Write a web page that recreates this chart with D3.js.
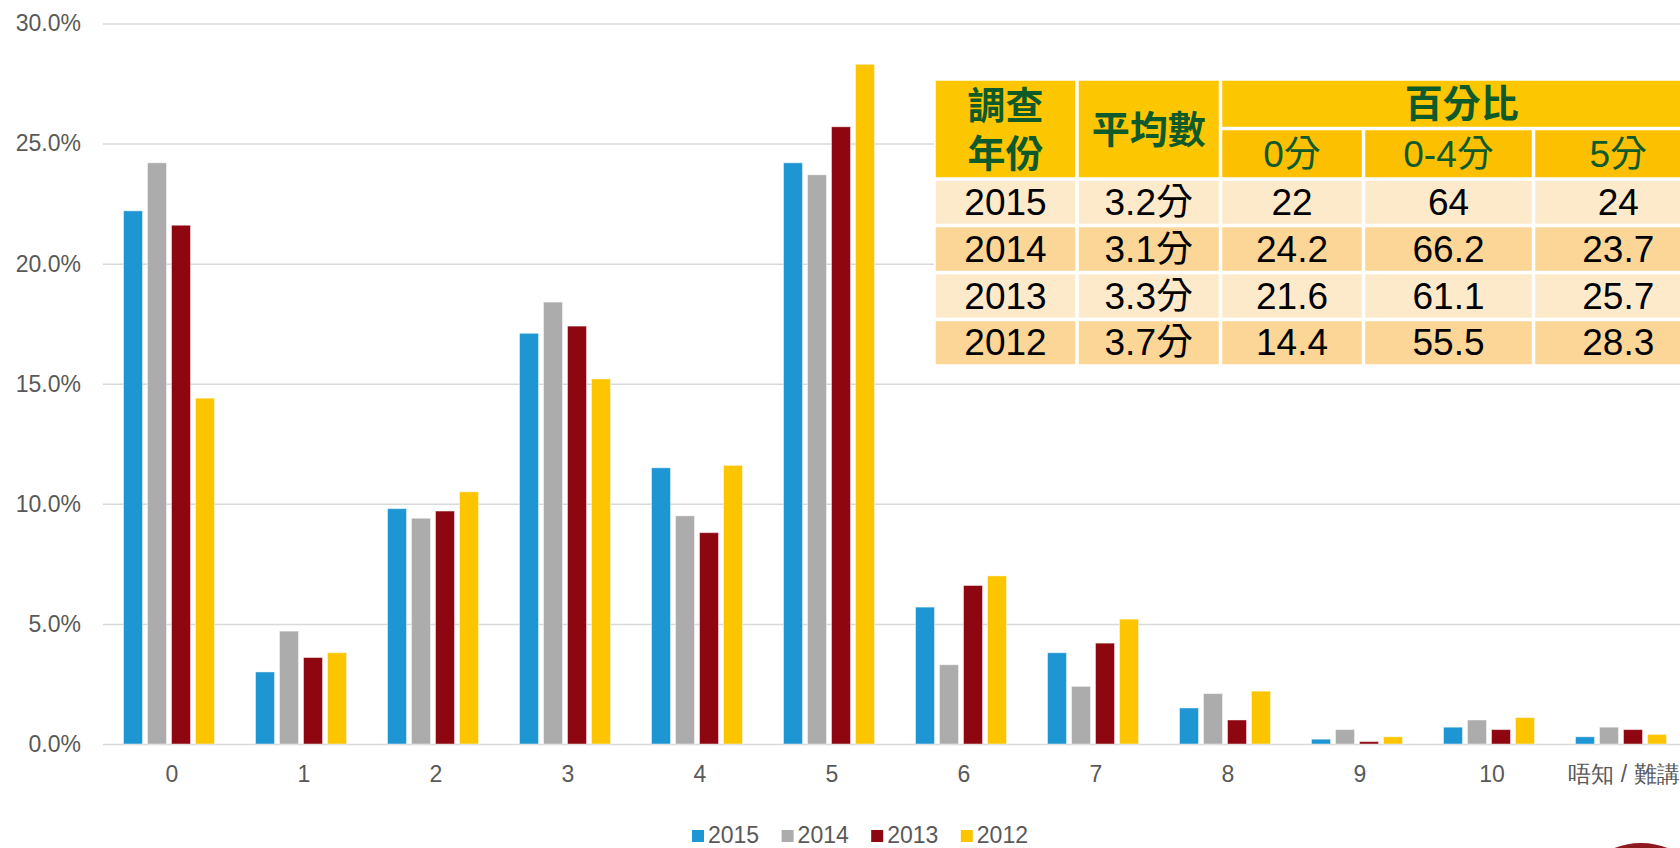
<!doctype html>
<html>
  <head>
    <meta charset="utf-8">
    <title>調查結果</title>
    <script src="https://cdnjs.cloudflare.com/ajax/libs/d3/7.8.5/d3.min.js"></script>
    <style>
      body { margin: 0; background: #fff; }
      svg { display: block; font-family: "Liberation Sans", Arial, "Noto Sans CJK TC", sans-serif; }
      .axis text { fill: #595959; font-size: 23px; }
      .axis .domain { display: none; }
      .grid line { stroke: #d9d9d9; stroke-width: 1.5px; }
    </style>
  </head>
  <body>
    <div id="chart"></div>
    <script>
      // chart data (percent)
      const categories = ["0", "1", "2", "3", "4", "5", "6", "7", "8", "9", "10", "唔知 / 難講"];
      const years = ["2015", "2014", "2013", "2012"];
      const values2015 = [22.2, 3.0, 9.8, 17.1, 11.5, 24.2, 5.7, 3.8, 1.5, 0.2, 0.7, 0.3];
      const values2014 = [24.2, 4.7, 9.4, 18.4, 9.5, 23.7, 3.3, 2.4, 2.1, 0.6, 1.0, 0.7];
      const values2013 = [21.6, 3.6, 9.7, 17.4, 8.8, 25.7, 6.6, 4.2, 1.0, 0.1, 0.6, 0.6];
      const values2012 = [14.4, 3.8, 10.5, 15.2, 11.6, 28.3, 7.0, 5.2, 2.2, 0.3, 1.1, 0.4];
      const yTicks = [0, 5, 10, 15, 20, 25, 30];
      const colors = ["#1e96d4", "#abacab", "#8e0710", "#fcc500"];

      // table data
      const tableHeadYear = ["調查", "年份"];
      const tableHeadMean = "平均數";
      const tableHeadPct = "百分比";
      const tableSubHeads = ["0分", "0-4分", "5分"];
      const tableYears = ["2015", "2014", "2013", "2012"];
      const tableMeans = ["3.2分", "3.1分", "3.3分", "3.7分"];
      const tableZero = ["22", "24.2", "21.6", "14.4"];
      const tableZeroToFour = ["64", "66.2", "61.1", "55.5"];
      const tableFive = ["24", "23.7", "25.7", "28.3"];

      const W = 1680, H = 848;
      const series = [values2015, values2014, values2013, values2012];

      const svg = d3.select('#chart').append('svg')
        .attr('width', W).attr('height', H);

      const x0 = d3.scaleBand()
        .domain(categories)
        .range([103, 1687])
        .paddingInner(41 / 132)
        .paddingOuter(20.5 / 132);

      const x1 = d3.scaleBand()
        .domain(years)
        .range([0, x0.bandwidth()])
        .paddingInner(5 / 24);

      const y = d3.scaleLinear().domain([0, 30]).range([744, 23.5]);

      // gridlines + y labels
      svg.append('g')
        .attr('class', 'axis grid')
        .attr('transform', 'translate(103,0)')
        .call(d3.axisLeft(y).tickValues(yTicks)
          .tickSize(-(1687 - 103)).tickPadding(22)
          .tickFormat(d => d3.format('.1%')(d / 100)));

      // bars
      const groups = svg.append('g').selectAll('g')
        .data(categories)
        .join('g')
        .attr('transform', d => `translate(${x0(d)},0)`);

      groups.selectAll('rect')
        .data((d, i) => years.map((yr, k) => ({ yr, k, v: series[k][i] })))
        .join('rect')
        .attr('x', d => x1(d.yr))
        .attr('width', x1.bandwidth())
        .attr('y', d => y(d.v))
        .attr('height', d => y(0) - y(d.v))
        .attr('fill', d => colors[d.k])
        .attr('stroke', 'rgba(255,255,255,0.45)')
        .attr('stroke-width', 1);

      // x labels (sit a little right of the bar groups in the original)
      svg.append('g')
        .attr('class', 'axis')
        .attr('transform', 'translate(3,744)')
        .call(d3.axisBottom(x0).tickSize(0).tickPadding(22));

      // legend
      const legend = svg.append('g').selectAll('g')
        .data(years)
        .join('g')
        .attr('transform', (d, i) => `translate(${692 + i * 89.6},0)`);
      legend.append('rect')
        .attr('y', 830).attr('width', 12).attr('height', 12)
        .attr('fill', (d, i) => colors[i]);
      legend.append('text')
        .attr('x', 16).attr('y', 843)
        .attr('fill', '#595959').style('font-size', '23px')
        .text(d => d);

      // decoration at the bottom right corner
      svg.append('circle')
        .attr('cx', 1641).attr('cy', 916).attr('r', 73)
        .attr('fill', '#8c1a1e');

      // summary table
      const colEdges = [934, 1077, 1220.5, 1363.5, 1533.5, 1703];
      const rowEdges = [79, 128.5, 179, 225.5, 272.5, 319.5, 366];
      const gap = 1.75;
      const headFill = '#fcc600', subFill = '#fcc000';
      const rowFills = ['#fdeacb', '#fcd696'];
      const green = '#0f5a2a';

      const table = svg.append('g');
      table.append('rect')
        .attr('x', colEdges[0]).attr('y', rowEdges[0])
        .attr('width', colEdges[5] - colEdges[0]).attr('height', rowEdges[6] - rowEdges[0])
        .attr('fill', '#fff');

      function cell(c0, c1, r0, r1, fill) {
        table.append('rect')
          .attr('x', colEdges[c0] + gap).attr('y', rowEdges[r0] + gap)
          .attr('width', colEdges[c1] - colEdges[c0] - 2 * gap)
          .attr('height', rowEdges[r1] - rowEdges[r0] - 2 * gap)
          .attr('fill', fill);
      }
      function label(c0, c1, cy, txt, opts) {
        table.append('text')
          .attr('x', (colEdges[c0] + colEdges[c1]) / 2)
          .attr('y', cy)
          .attr('text-anchor', 'middle')
          .attr('dominant-baseline', 'central')
          .attr('fill', opts.fill)
          .style('font-size', opts.size + 'px')
          .style('font-weight', opts.bold ? 'bold' : 'normal')
          .text(txt);
      }

      cell(0, 1, 0, 2, headFill);
      cell(1, 2, 0, 2, headFill);
      cell(2, 5, 0, 1, headFill);
      [2, 3, 4].forEach(c => cell(c, c + 1, 1, 2, subFill));
      tableYears.forEach((d, r) => {
        for (let c = 0; c < 5; c++) cell(c, c + 1, r + 2, r + 3, rowFills[r % 2]);
      });

      const headOpts = { fill: green, size: 38, bold: true };
      label(0, 1, 106, tableHeadYear[0], headOpts);
      label(0, 1, 154, tableHeadYear[1], headOpts);
      label(1, 2, 130, tableHeadMean, headOpts);
      label(2, 5, 104, tableHeadPct, headOpts);
      tableSubHeads.forEach((t, i) => label(i + 2, i + 3, 154, t, { fill: green, size: 37 }));

      const cols = [tableYears, tableMeans, tableZero, tableZeroToFour, tableFive];
      cols.forEach((col, c) => {
        col.forEach((t, r) => {
          const cy = (rowEdges[r + 2] + rowEdges[r + 3]) / 2;
          label(c, c + 1, cy, t, { fill: '#000', size: 37 });
        });
      });
    </script>
  </body>
</html>
